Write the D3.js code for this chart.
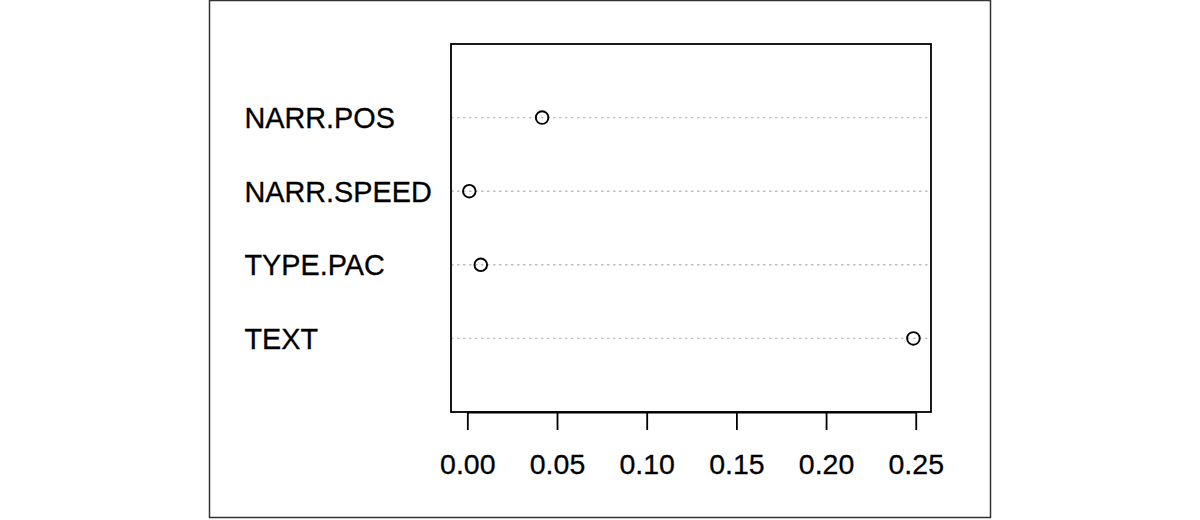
<!DOCTYPE html>
<html><head><meta charset="utf-8">
<script src="https://cdn.jsdelivr.net/npm/d3@7"></script>
<style>body{margin:0;background:#fff}svg{display:block}</style>
</head><body>
<svg id="c" width="1200" height="520"></svg>
<script>
const categories = ["NARR.POS", "NARR.SPEED", "TYPE.PAC", "TEXT"];
const values = [0.0417, 0.0011, 0.0075, 0.2487];
const tickValues = [0, 0.05, 0.10, 0.15, 0.20, 0.25];
const tickLabels = ["0.00", "0.05", "0.10", "0.15", "0.20", "0.25"];

const svg = d3.select("#c");
const plot = {left: 451, right: 931, top: 44, bottom: 412};
const font = "Liberation Sans, Arial, sans-serif";

// outer frame
svg.append("rect").attr("x", 209.5).attr("y", 0.5).attr("width", 781).attr("height", 517)
  .attr("fill", "none").attr("stroke", "#333").attr("stroke-width", 1.5);

const x = d3.scaleLinear().domain([-0.0091, 0.2585]).range([plot.left, plot.right]);
const y = d3.scaleLinear().domain([0, 5]).range([plot.bottom, plot.top]);
const pos = i => categories.length - i; // first category on top

// dotted guide lines
svg.append("g").selectAll("line").data(categories).join("line")
  .attr("x1", plot.left).attr("x2", plot.right)
  .attr("y1", (d, i) => y(pos(i))).attr("y2", (d, i) => y(pos(i)))
  .attr("stroke", "#bdbdbd").attr("stroke-width", 1.4).attr("stroke-dasharray", "2.5,3.5");

// category labels
svg.append("g").selectAll("text").data(categories).join("text")
  .attr("x", 244.5).attr("y", (d, i) => y(pos(i)))
  .attr("dy", "0.36em")
  .attr("font-family", font).attr("font-size", 28.8).attr("fill", "#000")
  .attr("stroke", "#000").attr("stroke-width", 0.3)
  .text(d => d);

// points
svg.append("g").selectAll("circle").data(values).join("circle")
  .attr("cx", d => x(d)).attr("cy", (d, i) => y(pos(i))).attr("r", 6.3)
  .attr("fill", "none").attr("stroke", "#000").attr("stroke-width", 1.9);

// plot box
svg.append("rect").attr("x", plot.left).attr("y", plot.top)
  .attr("width", plot.right - plot.left).attr("height", plot.bottom - plot.top)
  .attr("fill", "none").attr("stroke", "#000").attr("stroke-width", 1.8);

// x axis
const axis = d3.axisBottom(x).tickValues(tickValues)
  .tickFormat((d, i) => tickLabels[i]).tickSize(18).tickPadding(24);
const gx = svg.append("g").attr("transform", `translate(0,${plot.bottom})`).call(axis);
gx.select(".domain").attr("stroke", "#000").attr("stroke-width", 1.8)
  .attr("d", `M${x(0)},0.5H${x(0.25)}`);
gx.selectAll(".tick line").attr("stroke", "#000").attr("stroke-width", 1.8);
gx.selectAll(".tick text").attr("font-family", font).attr("font-size", 28.5).attr("fill", "#000")
  .attr("stroke", "#000").attr("stroke-width", 0.3);
</script>
</body></html>
